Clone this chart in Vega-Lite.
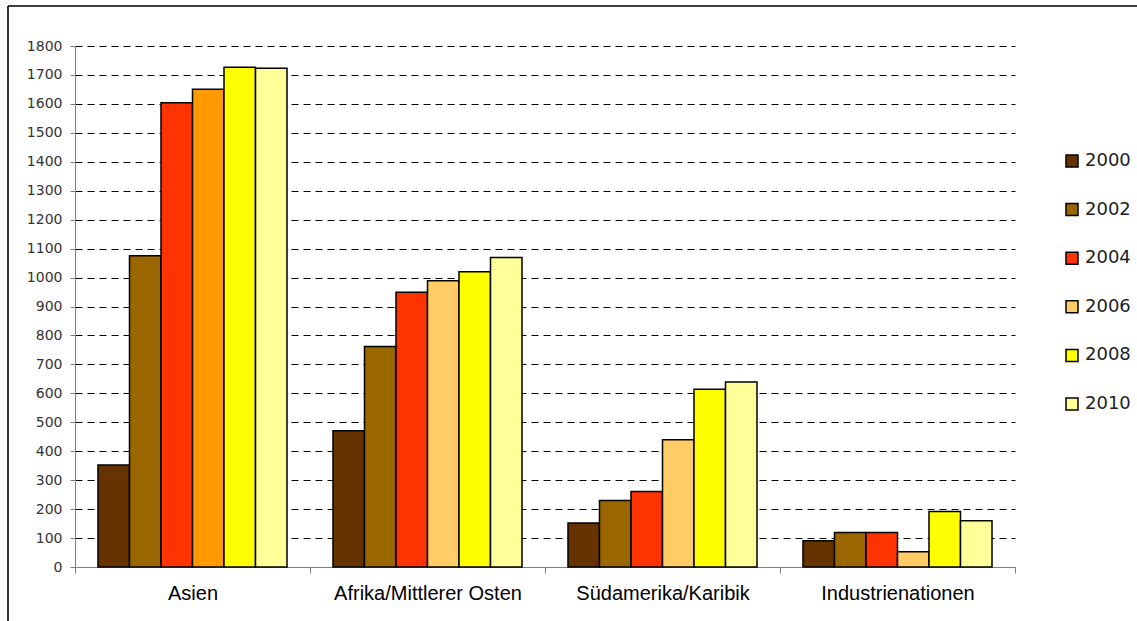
{
  "$schema": "https://vega.github.io/schema/vega-lite/v6.json",
  "autosize": {"type": "none"},
  "padding": {"left": 8, "top": 6, "right": 0, "bottom": 0},
  "width": 1129,
  "height": 615,
  "background": "#ffffff",
  "config": {
    "view": {"stroke": "#000000", "strokeWidth": 1.6, "strokeDash": [1129, 1744, 615, 0]},
    "axis": {"domainColor": "#808080", "tickColor": "#808080", "domainWidth": 1, "tickWidth": 1}
  },
  "data": {
    "values": [
      {"region": "Asien", "year": "2000", "value": 352},
      {"region": "Asien", "year": "2002", "value": 1075},
      {"region": "Asien", "year": "2004", "value": 1604},
      {"region": "Asien", "year": "2006", "value": 1651},
      {"region": "Asien", "year": "2008", "value": 1727},
      {"region": "Asien", "year": "2010", "value": 1723},
      {"region": "Afrika/Mittlerer Osten", "year": "2000", "value": 471},
      {"region": "Afrika/Mittlerer Osten", "year": "2002", "value": 762},
      {"region": "Afrika/Mittlerer Osten", "year": "2004", "value": 949},
      {"region": "Afrika/Mittlerer Osten", "year": "2006", "value": 989},
      {"region": "Afrika/Mittlerer Osten", "year": "2008", "value": 1020},
      {"region": "Afrika/Mittlerer Osten", "year": "2010", "value": 1069},
      {"region": "Südamerika/Karibik", "year": "2000", "value": 152},
      {"region": "Südamerika/Karibik", "year": "2002", "value": 230},
      {"region": "Südamerika/Karibik", "year": "2004", "value": 261},
      {"region": "Südamerika/Karibik", "year": "2006", "value": 440},
      {"region": "Südamerika/Karibik", "year": "2008", "value": 614},
      {"region": "Südamerika/Karibik", "year": "2010", "value": 639},
      {"region": "Industrienationen", "year": "2000", "value": 91},
      {"region": "Industrienationen", "year": "2002", "value": 119},
      {"region": "Industrienationen", "year": "2004", "value": 119},
      {"region": "Industrienationen", "year": "2006", "value": 53},
      {"region": "Industrienationen", "year": "2008", "value": 192},
      {"region": "Industrienationen", "year": "2010", "value": 160}
    ]
  },
  "mark": {"type": "bar", "stroke": "#000000", "strokeWidth": 1.5, "opacity": 1},
  "encoding": {
    "x": {
      "field": "region",
      "type": "nominal",
      "sort": null,
      "scale": {"range": [67, 1007], "paddingInner": 0, "paddingOuter": 0},
      "axis": {
        "title": null,
        "orient": "bottom",
        "offset": -54,
        "labelAngle": 0,
        "tickBand": "extent",
        "tickSize": 6,
        "labelPadding": 10,
        "labelLimit": 400,
        "labelFont": "Liberation Sans",
        "labelFontSize": 20,
        "labelColor": "#000000",
        "grid": false
      }
    },
    "xOffset": {
      "field": "year",
      "type": "nominal",
      "scale": {"paddingInner": 0, "paddingOuter": 0.73}
    },
    "y": {
      "field": "value",
      "type": "quantitative",
      "scale": {"domain": [0, 1800], "range": [561, 40], "nice": false},
      "axis": {
        "title": null,
        "offset": -67,
        "format": "d",
        "values": [0, 100, 200, 300, 400, 500, 600, 700, 800, 900, 1000, 1100, 1200, 1300, 1400, 1500, 1600, 1700, 1800],
        "tickSize": 5,
        "labelPadding": 8,
        "labelFont": "DejaVu Sans",
        "labelFontSize": 14,
        "labelColor": "#333333",
        "grid": true,
        "gridColor": "#000000",
        "gridWidth": 1,
        "gridDash": [7, 5]
      }
    },
    "fill": {
      "condition": {"test": "datum.region === 'Asien' && datum.year === '2006'", "value": "#FF9900"},
      "field": "year",
      "type": "nominal",
      "scale": {
        "domain": ["2000", "2002", "2004", "2006", "2008", "2010"],
        "range": ["#663300", "#996600", "#FF3300", "#FFCC66", "#FFFF00", "#FFFF99"]
      },
      "legend": {
        "title": null,
        "orient": "none",
        "legendX": 1055,
        "legendY": 146,
        "symbolType": "square",
        "symbolSize": 144,
        "symbolStrokeColor": "#000000",
        "symbolStrokeWidth": 1.5,
        "symbolOpacity": 1,
        "labelFont": "DejaVu Sans",
        "labelFontSize": 18,
        "labelColor": "#222222",
        "labelOffset": 4,
        "rowPadding": 30.6
      }
    }
  }
}
